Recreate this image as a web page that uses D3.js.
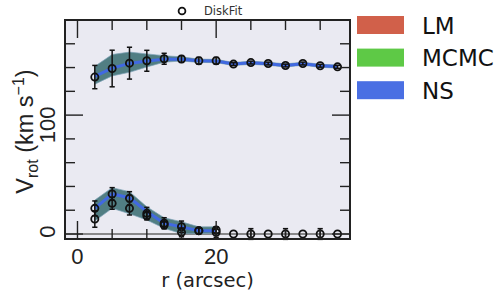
<!DOCTYPE html>
<html>
<head>
<meta charset="utf-8">
<script src="https://cdn.jsdelivr.net/npm/d3@7"></script>
<style>
  body { margin: 0; background: #fff; }
  svg { display: block; }
</style>
</head>
<body>
<svg id="chart" width="500" height="300"></svg>
<script>
// radii (arcsec)
const radius = [2.5, 5, 7.5, 10, 12.5, 15, 17.5, 20, 22.5, 25, 27.5, 30, 32.5, 35, 37.5];

// DiskFit points, outer curve
const dfRot = [132, 139.2, 143.7, 145.7, 147.4, 147.2, 145.7, 145.7, 142.9, 144.2, 143.4, 141.7, 143.4, 141.5, 140.6];
const dfRotErr = [9.8, 15.4, 13.4, 8.8, 4.6, 2.8, 2.8, 2.8, 1.2, 1.2, 1.2, 1.2, 1.2, 1.2, 1.2];

// DiskFit points, inner components
const dfCompA = [21.6, 33.7, 30, 17.4, 9, 6.1, 2.8, 3.4, 0, 0, 0, 0, 0, 0, 0];
const dfCompAErr = [6.2, 5.3, 5.6, 5, 4.7, 4.8, 2.5, 2.7, 0, 4.5, 0, 4.5, 0, 4.5, 0];
const dfCompB = [12.6, 25.8, 21.6, 15.4, 7.6, 1.4, 2.8, 1.4];
const dfCompBErr = [6.9, 5, 5.6, 3.6, 2.8, 3.7, 2.5, 4.2];

// NS model, outer curve and range
const nsRot = [132.5, 139.5, 143.5, 145.5, 147, 147, 145.7, 145.5, 143, 144, 143.2, 141.8, 143.2, 141.5, 140.8];
const nsRotLo = [126, 133, 136, 140.5, 144.5, 145.5, 144.3, 144.1, 141.7, 142.7, 141.9, 140.5, 141.9, 140.2, 139.5];
const nsRotHi = [141, 151, 153, 151.5, 150, 149, 147.1, 146.9, 144.3, 145.3, 144.5, 143.1, 144.5, 142.8, 142.1];

// NS model, inner component and range
const nsComp = [21.6, 33.7, 30.5, 19, 9, 6, 2.8, 2.8];
const nsCompLo = [11, 21.6, 17, 11.8, 4.8, 0.3, 0.3, 0.8];
const nsCompHi = [28.5, 39, 35.6, 22.9, 13.7, 10.3, 6, 6];

const methods = ['LM', 'MCMC', 'NS'];
const methodColors = ['#d1604a', '#5ec946', '#4a6fe3'];

const xTicksMajor = [0, 20];
const yTicksMajor = [0, 100];

const svg = d3.select('#chart');
const pLeft = 65, pRight = 350, pTop = 20, pBottom = 239;

const x = d3.scaleLinear().domain([-1.8, 39.3]).range([pLeft, pRight]);
const y = d3.scaleLinear().domain([-4.2, 180]).range([pBottom, pTop]);

svg.append('rect')
  .attr('x', pLeft).attr('y', pTop)
  .attr('width', pRight - pLeft).attr('height', pBottom - pTop)
  .attr('fill', '#eaeaf2');

// zero line
svg.append('line')
  .attr('x1', pLeft).attr('x2', pRight)
  .attr('y1', y(0)).attr('y2', y(0))
  .attr('stroke', '#666').attr('stroke-width', 1.6);

function drawModel(vals, lo, hi) {
  let pts = vals.map((v, i) => ({r: radius[i], v: v, lo: lo[i], hi: hi[i]}));
  svg.append('path')
    .datum(pts)
    .attr('d', d3.area().x(d => x(d.r)).y0(d => y(d.lo)).y1(d => y(d.hi)))
    .attr('fill', '#437479').attr('fill-opacity', 0.92)
    .attr('stroke', '#7fa3b8').attr('stroke-opacity', 0.7).attr('stroke-width', 1);
  svg.append('path')
    .datum(pts)
    .attr('d', d3.line().x(d => x(d.r)).y(d => y(d.v)))
    .attr('fill', 'none')
    .attr('stroke', 'royalblue').attr('stroke-width', 3);
}
drawModel(nsRot, nsRotLo, nsRotHi);
drawModel(nsComp, nsCompLo, nsCompHi);

function drawPoints(vals, errs) {
  let g = svg.append('g');
  let pts = vals.map((v, i) => ({r: radius[i], v: v, e: errs[i]}));
  let bars = g.selectAll('g.err').data(pts.filter(d => d.e > 0)).join('g')
    .attr('stroke', '#111').attr('stroke-width', 1.5);
  bars.append('line')
    .attr('x1', d => x(d.r)).attr('x2', d => x(d.r))
    .attr('y1', d => y(d.v - d.e)).attr('y2', d => y(d.v + d.e));
  bars.append('line')
    .attr('x1', d => x(d.r) - 2.6).attr('x2', d => x(d.r) + 2.6)
    .attr('y1', d => y(d.v - d.e)).attr('y2', d => y(d.v - d.e));
  bars.append('line')
    .attr('x1', d => x(d.r) - 2.6).attr('x2', d => x(d.r) + 2.6)
    .attr('y1', d => y(d.v + d.e)).attr('y2', d => y(d.v + d.e));
  g.selectAll('circle').data(pts).join('circle')
    .attr('cx', d => x(d.r)).attr('cy', d => y(d.v))
    .attr('r', 3.6)
    .attr('fill', 'none').attr('stroke', '#111').attr('stroke-width', 1.8);
}
drawPoints(dfRot, dfRotErr);
drawPoints(dfCompA, dfCompAErr);
drawPoints(dfCompB, dfCompBErr);

// frame
svg.append('rect')
  .attr('x', pLeft).attr('y', pTop)
  .attr('width', pRight - pLeft).attr('height', pBottom - pTop)
  .attr('fill', 'none').attr('stroke', '#222').attr('stroke-width', 2);

// inward ticks on all sides
const ticks = svg.append('g').attr('stroke', '#222').attr('stroke-width', 1.4);
d3.range(0, 40, 5).forEach(t => {
  let len = t % 20 === 0 ? 18 : 10;
  ticks.append('line').attr('x1', x(t)).attr('x2', x(t)).attr('y1', pBottom).attr('y2', pBottom - len);
  ticks.append('line').attr('x1', x(t)).attr('x2', x(t)).attr('y1', pTop).attr('y2', pTop + len);
});
d3.range(0, 181, 20).forEach(t => {
  let len = t % 100 === 0 ? 18 : 10;
  ticks.append('line').attr('y1', y(t)).attr('y2', y(t)).attr('x1', pLeft).attr('x2', pLeft + len);
  ticks.append('line').attr('y1', y(t)).attr('y2', y(t)).attr('x1', pRight).attr('x2', pRight - len);
});

const labelFont = '"Liberation Sans", Arial, sans-serif';

svg.selectAll('text.xt').data(xTicksMajor).join('text')
  .attr('x', d => x(d)).attr('y', 263.5)
  .attr('text-anchor', 'middle')
  .attr('font-family', labelFont).attr('font-size', 22).attr('fill', '#222')
  .text(d => d);

svg.selectAll('text.yt').data(yTicksMajor).join('text')
  .attr('transform', d => `translate(55,${y(d) - 8.5}) rotate(-90)`)
  .attr('text-anchor', 'end')
  .attr('font-family', labelFont).attr('font-size', 22).attr('fill', '#222')
  .text(d => d);

svg.append('text')
  .attr('x', (pLeft + pRight) / 2).attr('y', 287)
  .attr('text-anchor', 'middle')
  .attr('font-family', '"DejaVu Sans", sans-serif').attr('font-size', 19.5).attr('fill', '#222')
  .text('r (arcsec)');

const yl = svg.append('text')
  .attr('transform', 'translate(33,131.5) rotate(-90)')
  .attr('text-anchor', 'middle')
  .attr('font-family', labelFont).attr('font-size', 23.5).attr('fill', '#222');
yl.append('tspan').text('V');
yl.append('tspan').attr('font-size', 16).attr('dy', 5).text('rot');
yl.append('tspan').attr('dy', -5).text('  (km s');
yl.append('tspan').attr('font-size', 16).attr('dy', -9).text('\u22121');
yl.append('tspan').attr('dy', 9).text(')');

// top legend
svg.append('circle').attr('cx', 182).attr('cy', 11).attr('r', 3.4)
  .attr('fill', 'none').attr('stroke', '#111').attr('stroke-width', 1.8);
svg.append('text').attr('x', 204).attr('y', 15)
  .attr('font-family', '"DejaVu Sans", sans-serif').attr('font-size', 11.5).attr('fill', '#333')
  .text('DiskFit');

// method legend
const leg = svg.selectAll('g.leg').data(methods).join('g')
  .attr('transform', (d, i) => `translate(357,${16 + i * 32.6})`);
leg.append('rect').attr('width', 47).attr('height', 18)
  .attr('fill', (d, i) => methodColors[i]);
leg.append('text').attr('x', 65).attr('y', 17.5)
  .attr('font-family', '"DejaVu Sans", sans-serif').attr('font-size', 23).attr('fill', '#111')
  .text(d => d);
</script>
</body>
</html>
